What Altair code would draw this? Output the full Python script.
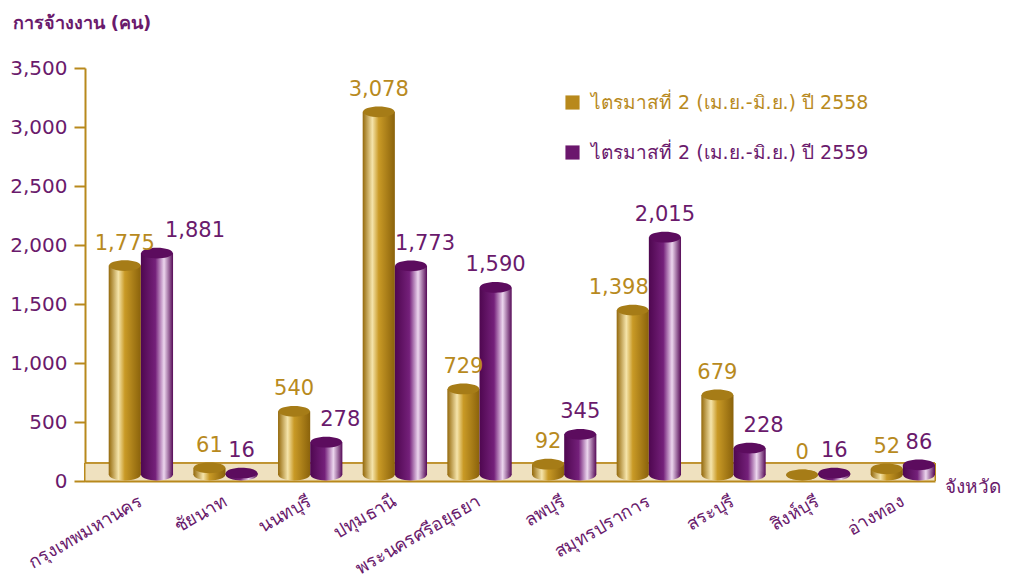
import altair as alt
import pandas as pd

provinces = ["กรุงเทพมหานคร", "ชัยนาท", "นนทบุรี", "ปทุมธานี", "พระนครศรีอยุธยา",
             "ลพบุรี", "สมุทรปราการ", "สระบุรี", "สิงห์บุรี", "อ่างทอง"]
q2_2558 = [1775, 61, 540, 3078, 729, 92, 1398, 679, 0, 52]
q2_2559 = [1881, 16, 278, 1773, 1590, 345, 2015, 228, 16, 86]
series_names = ["ไตรมาสที่ 2 (เม.ย.-มิ.ย.) ปี 2558", "ไตรมาสที่ 2 (เม.ย.-มิ.ย.) ปี 2559"]
y_ticks = [0, 500, 1000, 1500, 2000, 2500, 3000, 3500]

GOLD = "#b8891c"
PURPLE = "#6b176d"
GOLD_TXT = "#b88a1e"
PURPLE_TXT = "#6a1a6c"
FONT = "DejaVu Sans"
PW, PH = 850, 413
YOFF = -6

df = pd.DataFrame({"province": provinces, "g": q2_2558, "p": q2_2559})
legend_df = pd.DataFrame({"series": series_names, "v": [0, 0]})

xscale = alt.Scale(domain=provinces, paddingInner=0.24, paddingOuter=0.14, align=1)
xenc = alt.X("province:N", sort=provinces, scale=xscale,
             axis=alt.Axis(title="จังหวัด", labelAngle=-30, labelAlign="right",
                           labelBaseline="middle", labelFontSize=18, labelColor=PURPLE_TXT,
                           labelFont=FONT, labelPadding=19, ticks=False, domainColor=GOLD,
                           domainWidth=2, titleFont=FONT, titleFontSize=19,
                           titleColor=PURPLE_TXT, titleFontWeight="normal",
                           titleAnchor="start", titleAlign="left", titleBaseline="middle",
                           titleX=PW + 9, titleY=5))
xoff = alt.XOffset("s:N", scale=alt.Scale(domain=series_names, paddingInner=0, paddingOuter=0))
yscale = alt.Scale(domain=[0, 3500], nice=False)

base = alt.Chart(df)

floor = base.mark_rect(color="#efe1bf", stroke=GOLD, strokeWidth=1).encode(
    x=alt.value(0), x2=alt.value(PW),
    y=alt.datum(0, type="quantitative", scale=yscale), y2=alt.datum(150))

def grad(stops):
    return alt.Gradient(gradient="linear", x1=0, x2=1, y1=0, y2=0,
                        stops=[alt.GradientStop(offset=o, color=c) for o, c in stops])

gold_grad = grad([(0, "#94690c"), (0.3, "#f5e4aa"), (0.5, "#c99a26"), (1, "#8a620b")])
purple_grad = grad([(0, "#4f0750"), (0.45, "#74207a"), (0.72, "#ecd6ee"), (1, "#560a57")])

ellipse = "M-1,0A1,0.34,0,1,0,1,0A1,0.34,0,1,0,-1,0Z"


def cyl(field, sname, gr, topc):
    b = base.transform_calculate(s=f"'{sname}'")
    bar = b.mark_bar(color=gr, yOffset=YOFF).encode(
        x=xenc, xOffset=xoff,
        y=alt.Y(f"{field}:Q", scale=yscale,
                axis=alt.Axis(values=y_ticks, format=",.0f", title="การจ้างงาน (คน)",
                              grid=False, labelFontSize=20, labelColor=PURPLE_TXT,
                              labelFont=FONT, tickColor=GOLD, tickSize=11, tickWidth=2,
                              domainColor=GOLD, domainWidth=2, labelPadding=7,
                              titleAngle=0, titleAlign="left", titleBaseline="top",
                              titleX=-73, titleY=-54, titleFont=FONT, titleFontSize=18,
                              titleColor=PURPLE_TXT, titleFontWeight="bold")),
    )
    bottom = b.mark_point(shape=ellipse, filled=True, size=1000, color=gr, opacity=1,
                          yOffset=YOFF).encode(
        x=xenc, xOffset=xoff, y=alt.datum(0, type="quantitative", scale=yscale))
    top = b.mark_point(shape=ellipse, filled=True, size=1000, color=topc, opacity=1,
                       yOffset=YOFF).encode(
        x=xenc, xOffset=xoff, y=alt.Y(f"{field}:Q", scale=yscale))
    return [bar, bottom, top]


layers = []
layers += cyl("g", series_names[0], gold_grad, "#a67c17")
layers += cyl("p", series_names[1], purple_grad, "#5c0c5e")

gold_lbl = base.transform_calculate(
    s=f"'{series_names[0]}'",
    ddx="(datum.p - datum.g > 300 && datum.g >= 1000) ? -14 : 0",
).mark_text(font=FONT, fontSize=21, color=GOLD_TXT, baseline="alphabetic", dy=-16 + YOFF,
            dx=alt.ExprRef(expr="datum.ddx")).encode(
    x=xenc, xOffset=xoff, y=alt.Y("g:Q", scale=yscale), text=alt.Text("g:Q", format=","))

purple_lbl = base.transform_calculate(
    s=f"'{series_names[1]}'",
    ddx="(datum.g > datum.p && datum.p >= 200) ? 14 : ((datum.p > datum.g && datum.p - datum.g < 300 && datum.g >= 1000) ? 38 : 0)",
).mark_text(font=FONT, fontSize=21, color=PURPLE_TXT, baseline="alphabetic", dy=-16 + YOFF,
            dx=alt.ExprRef(expr="datum.ddx")).encode(
    x=xenc, xOffset=xoff, y=alt.Y("p:Q", scale=yscale), text=alt.Text("p:Q", format=","))

legend_layer = alt.Chart(legend_df).mark_square(opacity=0, size=1).encode(
    color=alt.Color("series:N", sort=series_names,
                    scale=alt.Scale(domain=series_names, range=[GOLD, PURPLE]),
                    legend=alt.Legend(title=None, orient="none", legendX=478, legendY=25,
                                      symbolType="square", symbolSize=200, symbolOpacity=1,
                                      symbolStrokeWidth=0, labelFont=FONT, labelFontSize=19,
                                      labelColor=alt.ExprRef(expr=f"datum.value == '{series_names[0]}' ? '{GOLD_TXT}' : '{PURPLE_TXT}'"),
                                      rowPadding=30, labelOffset=9, labelLimit=400)),
    y=alt.datum(0, type="quantitative", scale=yscale),
)

chart = alt.layer(floor, *layers, gold_lbl, purple_lbl, legend_layer).properties(
    width=PW, height=PH, background="white",
    autosize=alt.AutoSizeParams(type="none"),
    padding={"left": 77, "top": 60, "right": 67, "bottom": 102},
).configure_view(strokeWidth=0, stroke="transparent")

chart.save("out.html", embed_options={"renderer": "svg", "actions": False})
